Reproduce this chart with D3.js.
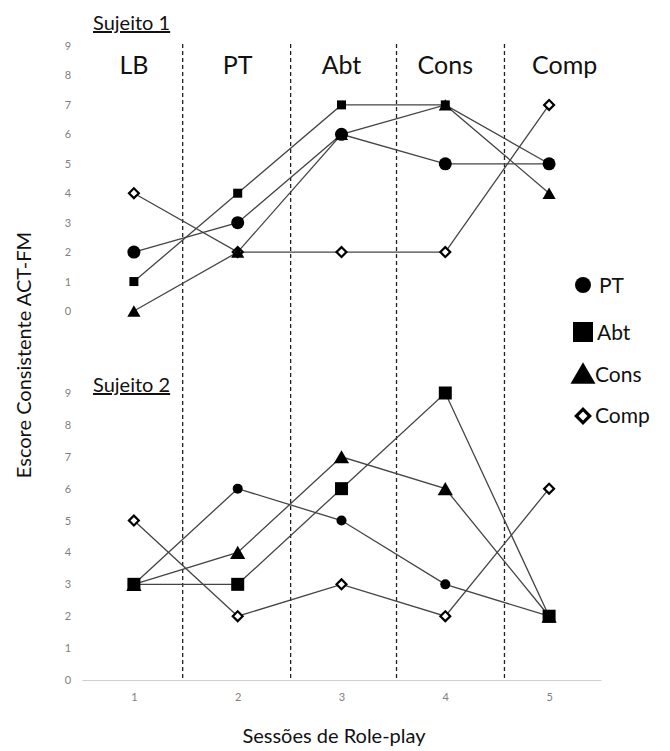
<!DOCTYPE html>
<html lang="pt">
<head>
<meta charset="UTF-8">
<title>Escore Consistente ACT-FM</title>
<script src="https://d3js.org/d3.v7.min.js"></script>
<style>
  body { margin: 0; background: #fff; }
  text { font-family: Lato, "Open Sans", sans-serif; }
</style>
</head>
<body>
<svg id="chart" width="670" height="751"></svg>
<script>
// sessões e fases
const sessions = [1, 2, 3, 4, 5];
const phases = ["LB", "PT", "Abt", "Cons", "Comp"];
const phaseLabelAt = [1, 2, 3, 4, 5.15];
const phaseBreaks = [1.47, 2.51, 3.53, 4.57];
const yTicks = [0, 1, 2, 3, 4, 5, 6, 7, 8, 9];

// Sujeito 1
const s1PT   = [2, 3, 6, 5, 5];
const s1Abt  = [1, 4, 7, 7, 5];
const s1Cons = [0, 2, 6, 7, 4];
const s1Comp = [4, 2, 2, 2, 7];

// Sujeito 2
const s2PT   = [3, 6, 5, 3, 2];
const s2Abt  = [3, 3, 6, 9, 2];
const s2Cons = [3, 4, 7, 6, 2];
const s2Comp = [5, 2, 3, 2, 6];

const seriesNames = ["PT", "Abt", "Cons", "Comp"];

const svg = d3.select("#chart");

const x = d3.scaleLinear().domain([0.5, 5.5]).range([82, 601]);
const yTop = d3.scaleLinear().domain([0, 9]).range([311, 46]);
const yBot = d3.scaleLinear().domain([0, 9]).range([680, 393]);

const lineColor = "#444";

// divisores de fase (atravessam os dois painéis)
svg.selectAll(".divider")
  .data(phaseBreaks)
  .enter().append("line")
  .attr("x1", d => x(d)).attr("x2", d => x(d))
  .attr("y1", 44).attr("y2", 680)
  .attr("stroke", "#222")
  .attr("stroke-width", 1.3)
  .attr("stroke-dasharray", "4,3");

// rótulos de fase
svg.selectAll(".phase")
  .data(phases)
  .enter().append("text")
  .attr("x", (d, i) => x(phaseLabelAt[i]))
  .attr("y", 74)
  .attr("text-anchor", "middle")
  .attr("font-size", 25)
  .attr("fill", "#111")
  .text(d => d);

// formas dos marcadores
function markerPath(kind, size) {
  if (kind === "PT") return d3.symbol(d3.symbolCircle, size)();
  if (kind === "Cons") return d3.symbol(d3.symbolTriangle, size)();
  return d3.symbol(d3.symbolSquare, size)();
}

function drawMarker(g, kind, cx, cy, size, sw) {
  const p = g.append("path")
    .attr("d", markerPath(kind, size));
  if (kind === "Comp") {
    p.attr("transform", `translate(${cx},${cy}) rotate(45)`)
      .attr("fill", "#fff")
      .attr("stroke", "#000")
      .attr("stroke-width", sw || 2.2);
  } else if (kind === "Cons") {
    // centrar pela caixa, como no original
    p.attr("transform", `translate(${cx},${cy + Math.sqrt(size) * 0.22})`)
      .attr("fill", "#000");
  } else {
    p.attr("transform", `translate(${cx},${cy})`).attr("fill", "#000");
  }
}

function panel(y, data, sizes, title, titleY, showXAxis) {
  const g = svg.append("g");

  const yAxis = d3.axisLeft(y).tickValues(yTicks).tickSize(0).tickPadding(0);
  const ga = g.append("g").attr("transform", "translate(68,0)").call(yAxis);
  ga.select(".domain").remove();
  ga.selectAll("text").attr("fill", "#808080").attr("font-size", 11)
    .attr("text-anchor", "middle");

  if (showXAxis) {
    const xAxis = d3.axisBottom(x).tickValues(sessions).tickSize(0)
      .tickPadding(13).tickFormat(d3.format("d"));
    const gx = g.append("g").attr("transform", `translate(0,${y(0)})`).call(xAxis);
    gx.select(".domain").attr("stroke", "#cfcfcf");
    gx.selectAll("text").attr("fill", "#808080").attr("font-size", 11);
  }

  const line = d3.line().x((d, i) => x(sessions[i])).y(d => y(d));

  data.forEach(s => {
    g.append("path")
      .attr("d", line(s.values))
      .attr("fill", "none")
      .attr("stroke", lineColor)
      .attr("stroke-width", 1.3);
  });
  data.forEach(s => {
    s.values.forEach((v, i) => drawMarker(g, s.name, x(sessions[i]), y(v), sizes[s.name]));
  });

  svg.append("text")
    .attr("x", 93).attr("y", titleY)
    .attr("font-size", 20)
    .attr("fill", "#111")
    .attr("text-decoration", "underline")
    .text(title);
}

panel(yTop, [
  { name: "Comp", values: s1Comp },
  { name: "Cons", values: s1Cons },
  { name: "Abt", values: s1Abt },
  { name: "PT", values: s1PT }
], { PT: 133, Abt: 81, Cons: 75, Comp: 49 }, "Sujeito 1", 30, false);

panel(yBot, [
  { name: "Comp", values: s2Comp },
  { name: "PT", values: s2PT },
  { name: "Cons", values: s2Cons },
  { name: "Abt", values: s2Abt }
], { PT: 79, Abt: 169, Cons: 100, Comp: 49 }, "Sujeito 2", 392, true);

// legenda
const legendY = [285, 332, 373, 416];
const legendSize = { PT: 200, Abt: 400, Cons: 270, Comp: 90 };
const legendTextX = [599, 597, 595, 595];
const legendBase = [293, 340, 382, 423];
const lg = svg.append("g");
seriesNames.forEach((n, i) => {
  drawMarker(lg, n, 583, legendY[i], legendSize[n], 3.2);
  lg.append("text")
    .attr("x", legendTextX[i]).attr("y", legendBase[i])
    .attr("font-size", 21)
    .attr("fill", "#111")
    .text(n);
});

// títulos dos eixos
svg.append("text")
  .attr("transform", "translate(31,355) rotate(-90)")
  .attr("text-anchor", "middle")
  .attr("font-size", 20)
  .attr("fill", "#111")
  .text("Escore Consistente ACT-FM");

svg.append("text")
  .attr("x", 334).attr("y", 743)
  .attr("text-anchor", "middle")
  .attr("font-size", 20)
  .attr("fill", "#111")
  .text("Sessões de Role-play");
</script>
</body>
</html>
